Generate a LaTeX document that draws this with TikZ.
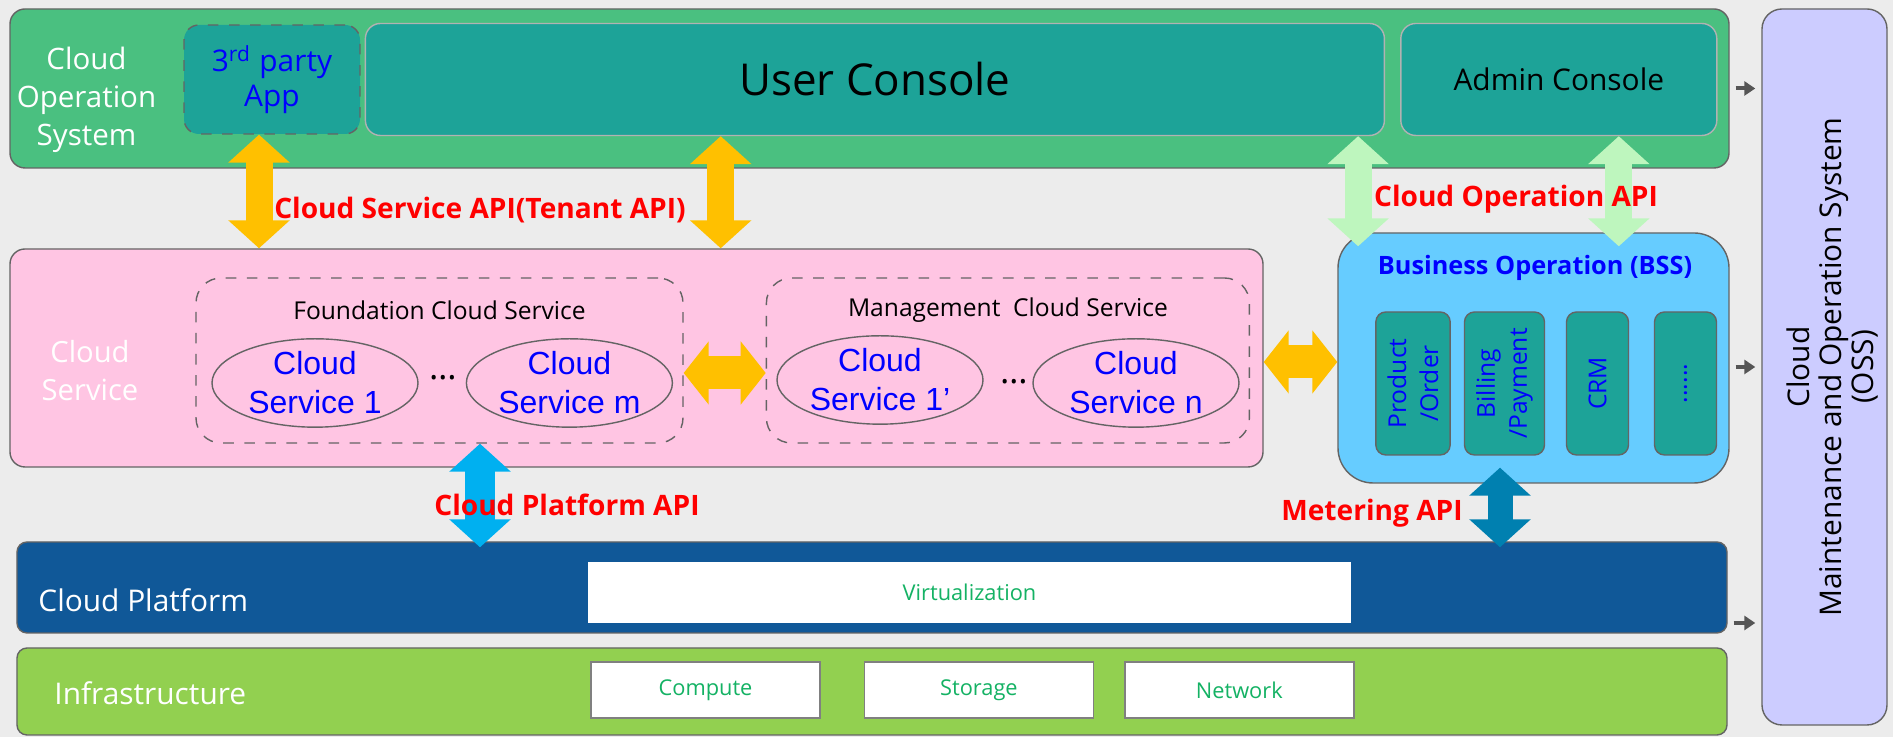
\documentclass[tikz,border=0pt]{standalone}
\usepackage{fontspec}
\setmainfont{Open Sans}
\newfontfamily\arialfont{Liberation Sans}
\usepackage{tikz}
\usetikzlibrary{positioning}
\usetikzlibrary{calc}
\usetikzlibrary{arrows.meta}
\usetikzlibrary{shapes.geometric}

\definecolor{bggray}{RGB}{236,236,236}
\definecolor{edgegray}{RGB}{100,100,100}
\definecolor{arrowgray}{RGB}{85,85,85}
\definecolor{cosgreen}{RGB}{74,192,128}
\definecolor{consoleteal}{RGB}{29,163,152}
\definecolor{pinkcs}{RGB}{255,197,227}
\definecolor{bssblue}{RGB}{102,204,255}
\definecolor{cpblue}{RGB}{16,88,152}
\definecolor{infgreen}{RGB}{146,208,80}
\definecolor{osslav}{RGB}{204,204,255}
\definecolor{apiorange}{RGB}{255,192,0}
\definecolor{apigreen}{RGB}{190,246,190}
\definecolor{apicyan}{RGB}{0,176,240}
\definecolor{apiteal}{RGB}{0,128,176}
\definecolor{txtgreen}{RGB}{20,178,100}

\tikzstyle{layer} = [draw=edgegray, rectangle, rounded corners=0.15cm]
\tikzstyle{console} = [draw=gray!60, fill=consoleteal, rectangle, rounded corners=0.15cm, minimum height=1.12cm]
\tikzstyle{group} = [draw=edgegray, dashed, rectangle, rounded corners=0.25cm, minimum height=1.65cm]
\tikzstyle{grouptitle} = [font=\fontsize{7}{8}\selectfont]
\tikzstyle{svc} = [draw=edgegray, ellipse, fill=pinkcs, text=blue, align=center, inner sep=0pt, minimum width=2.06cm, minimum height=0.8cm, font=\arialfont\fontsize{9.1}{11.1}\selectfont]
\tikzstyle{bsscol} = [draw=edgegray, fill=consoleteal, rectangle, rounded corners=0.1cm, rotate=90, minimum width=1.43cm, minimum height=0.62cm, text=blue, align=center, font=\fontsize{7}{9.1}\selectfont]
\tikzstyle{whitebox} = [draw=gray, fill=white, rectangle, text=txtgreen, font=\fontsize{6.2}{7.5}\selectfont]
\tikzstyle{lbl} = [text=white, align=center]
\tikzstyle{api} = [text=red, font=\bfseries\fontsize{8}{9.6}\selectfont]
\tikzstyle{fat} = [line width=0.27cm, {Triangle[width=0.6cm,length=0.28cm]}-{Triangle[width=0.6cm,length=0.28cm]}]
\tikzstyle{fatside} = [line width=0.33cm, {Triangle[width=0.62cm,length=0.25cm]}-{Triangle[width=0.62cm,length=0.25cm]}]
\tikzstyle{tooss} = [draw=arrowgray, line width=0.04cm, -{Triangle[width=0.14cm,length=0.11cm]}, shorten <=0.06cm, shorten >=0.06cm]

\begin{document}
\begin{tikzpicture}[node distance=0.3cm]
    \useasboundingbox (0,0) rectangle (18.93,7.37);
    \fill[bggray] (0,0) rectangle (18.93,7.37);

    % operation layer
    \node [layer, fill=cosgreen, minimum width=17.19cm, minimum height=1.59cm] (cos) at (8.695,6.485) {};
    \node [lbl, font=\fontsize{8.4}{10.8}\selectfont] (coslabel) at (0.865,6.37) {Cloud\\Operation\\System};
    \node [console, dashed, draw=edgegray, minimum width=1.76cm, minimum height=1.09cm, text=blue, align=center, font=\fontsize{8.5}{10}\selectfont] (app) at (2.72,6.575) {3\textsuperscript{rd} party\\App};
    \node [console, right=0.04cm of app, minimum width=10.19cm, font=\fontsize{12.5}{15}\selectfont] (uc) {User Console};
    \node [console, right=0.15cm of uc, minimum width=3.16cm, font=\fontsize{8.5}{10}\selectfont] (admin) {Admin Console};

    % oss
    \node [layer, fill=osslav, rounded corners=0.2cm, minimum width=1.25cm, minimum height=7.16cm] (oss) at (18.245,3.70) {};
    \node [rotate=90, align=center, font=\fontsize{8.5}{9.2}\selectfont] (osstext) at ([xshift=0.08cm]oss.center) {Cloud\\Maintenance and Operation System\\(OSS)};

    % cloud service layer
    \node [layer, fill=pinkcs, minimum width=12.53cm, minimum height=2.18cm] (cs) at (6.365,3.79) {};
    \node [lbl, font=\fontsize{8.3}{10.8}\selectfont] (cslabel) at (0.90,3.66) {Cloud\\Service};
    \node [group, minimum width=4.87cm] (fcs) at (4.395,3.765) {};
    \node [group, right=0.82cm of fcs, minimum width=4.83cm] (mcs) {};
    \node [grouptitle] (fcstitle) at ([yshift=-0.33cm]fcs.north) {Foundation Cloud Service};
    \node [grouptitle] (mcstitle) at ([yshift=-0.33cm]mcs.north) {Management\ \ Cloud Service};
    \node [svc] (cs1) at (3.15,3.54) {Cloud\\Service 1};
    \node [svc, right=0.47cm of cs1] (csm) {Cloud\\Service m};
    \node (dots1) at (4.43,3.59) {\dots};
    \node [svc] (cs1p) at (8.80,3.57) {Cloud\\Service 1’};
    \node [svc] (csn) at (11.36,3.54) {Cloud\\Service n};
    \node (dots2) at (10.14,3.55) {\dots};

    % business operation
    \node [layer, fill=bssblue, rounded corners=0.35cm, minimum width=3.91cm, minimum height=2.50cm] (bss) at (15.335,3.79) {};
    \node [text=blue, font=\bfseries\fontsize{7.2}{9}\selectfont] (bsstitle) at (15.35,4.69) {Business Operation (BSS)};
    \node [bsscol] (col1) at (14.13,3.535) {Product\\/Order};
    \node [bsscol] (col2) at (15.045,3.535) {Billing\\/Payment};
    \node [bsscol] (col3) at (15.975,3.535) {CRM};
    \node [bsscol] (col4) at (16.855,3.535) {......};

    % platform and infrastructure
    \node [layer, fill=cpblue, rounded corners=0.1cm, minimum width=17.10cm, minimum height=0.91cm] (cp) at (8.72,1.495) {};
    \node [lbl, anchor=west, font=\fontsize{8.5}{10}\selectfont] (cplabel) at (0.26,1.37) {Cloud Platform};
    \node [whitebox, draw=white, minimum width=7.61cm, minimum height=0.59cm] (virt) at (9.695,1.445) {Virtualization};
    \node [layer, fill=infgreen, rounded corners=0.1cm, minimum width=17.10cm, minimum height=0.87cm] (inf) at (8.72,0.455) {};
    \node [lbl, anchor=west, font=\fontsize{8.5}{10}\selectfont] (inflabel) at (0.42,0.44) {Infrastructure};
    \node [whitebox, minimum width=2.29cm, minimum height=0.56cm] (comp) at (7.055,0.47) {Compute};
    \node [whitebox, right=0.43cm of comp, minimum width=2.29cm, minimum height=0.56cm] (stor) {Storage};
    \node [whitebox, right=0.30cm of stor, minimum width=2.29cm, minimum height=0.56cm] (net) {Network};

    % api connections
    \coordinate (a1) at ([xshift=-0.13cm]app.south);
    \coordinate (a2) at ([xshift=3.56cm]uc.south west);
    \coordinate (g1) at ([xshift=-0.27cm]uc.south east);
    \coordinate (g2) at ([xshift=0.6cm]admin.south);
    \coordinate (c1) at ([xshift=0.405cm]fcs.south);
    \coordinate (m1) at ($(bss.south)+(-0.335,0.16)$);
    \coordinate (h1) at ([yshift=-0.125cm]fcs.east);
    \coordinate (h2) at ([yshift=-0.04cm]cs.east);
    \draw [fat, apiorange] (a1) -- (a1 |- cs.north);
    \draw [fat, apiorange] (a2) -- (a2 |- cs.north);
    \draw [fat, apigreen] (g1) -- ($(g1 |- bss.north)+(0,-0.14)$);
    \draw [fat, apigreen] (g2) -- ($(g2 |- bss.north)+(0,-0.14)$);
    \draw [fat, apicyan, line width=0.3cm] (c1) -- ($(c1 |- cp.north)+(0,-0.06)$);
    \draw [fat, apiteal, line width=0.25cm] (m1) -- ($(m1 |- cp.north)+(0,-0.06)$);
    \draw [fatside, apiorange] (h1) -- (h1 -| mcs.west);
    \draw [fatside, apiorange] (h2) -- (h2 -| bss.west);

    \node [api] (csapi) at (4.80,5.27) {Cloud Service API(Tenant API)};
    \node [api] (coapi) at (15.16,5.38) {Cloud Operation API};
    \node [api] (cpapi) at (5.67,2.32) {Cloud Platform API};
    \node [api] (mapi) at (13.72,2.24) {Metering API};

    % to oss
    \coordinate (o2) at ([yshift=-0.09cm]bss.east);
    \coordinate (o3) at ([yshift=-0.355cm]cp.east);
    \draw [tooss] (cos.east) -- (cos.east -| oss.west);
    \draw [tooss] (o2) -- (o2 -| oss.west);
    \draw [tooss] (o3) -- (o3 -| oss.west);
\end{tikzpicture}
\end{document}
